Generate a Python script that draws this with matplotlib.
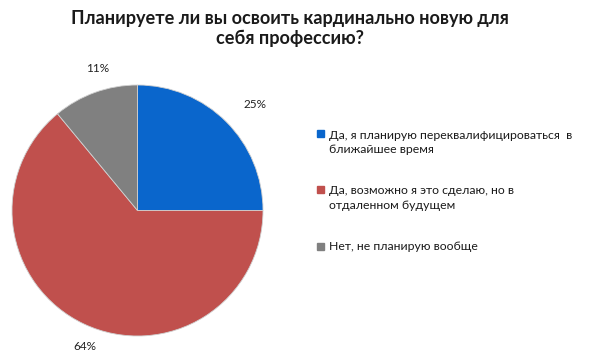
import matplotlib
matplotlib.use("Agg")
import matplotlib.pyplot as plt
from matplotlib.patches import Rectangle

title = "Планируете ли вы освоить кардинально новую для\nсебя профессию?"
categories = ["Да, я планирую переквалифицироваться  в\nближайшее время",
              "Да, возможно я это сделаю, но в\nотдаленном будущем",
              "Нет, не планирую вообще"]
values = [25, 64, 11]
colors = ["#0A66CC", "#C0504D", "#808080"]

plt.rcParams['font.family'] = ['Lato', 'DejaVu Sans']

W, H = 600, 355
fig = plt.figure(figsize=(6, 3.55), dpi=100)
ax = fig.add_axes([0, 0, 1, 1])

cx, cy, r = 137.5, H - 210.5, 125.5
wedges, texts = ax.pie(values, colors=colors, startangle=90, counterclock=False,
                       center=(cx, cy), radius=r, labels=[f"{v}%" for v in values],
                       labeldistance=1.2, frame=True,
                       wedgeprops=dict(linewidth=0.6, edgecolor='#d0d0d0'),
                       textprops=dict(fontsize=8.5, color='#222222'))
ax.set_xlim(0, W)
ax.set_ylim(0, H)
ax.axis('off')

fig.text(0.5 * (68 + 512) / W, 1 - 28.5 / H, title, ha='center', va='center',
         fontsize=13.1, fontweight='bold', color='#1a1a1a', linespacing=1.22)

leg_y = [142.5, 198, 246]
for lab, col, y in zip(categories, colors, leg_y):
    nlines = lab.count("\n") + 1
    top = y - (nlines - 1) * 8.7
    ax.add_patch(Rectangle((317, H - top - 3.5), 7, 7, color=col))
    ax.text(329, H - y, lab, ha='left', va='center', fontsize=8.8,
            color='#1a1a1a', linespacing=1.35)

fig.savefig("out.png", dpi=100, facecolor='white')
